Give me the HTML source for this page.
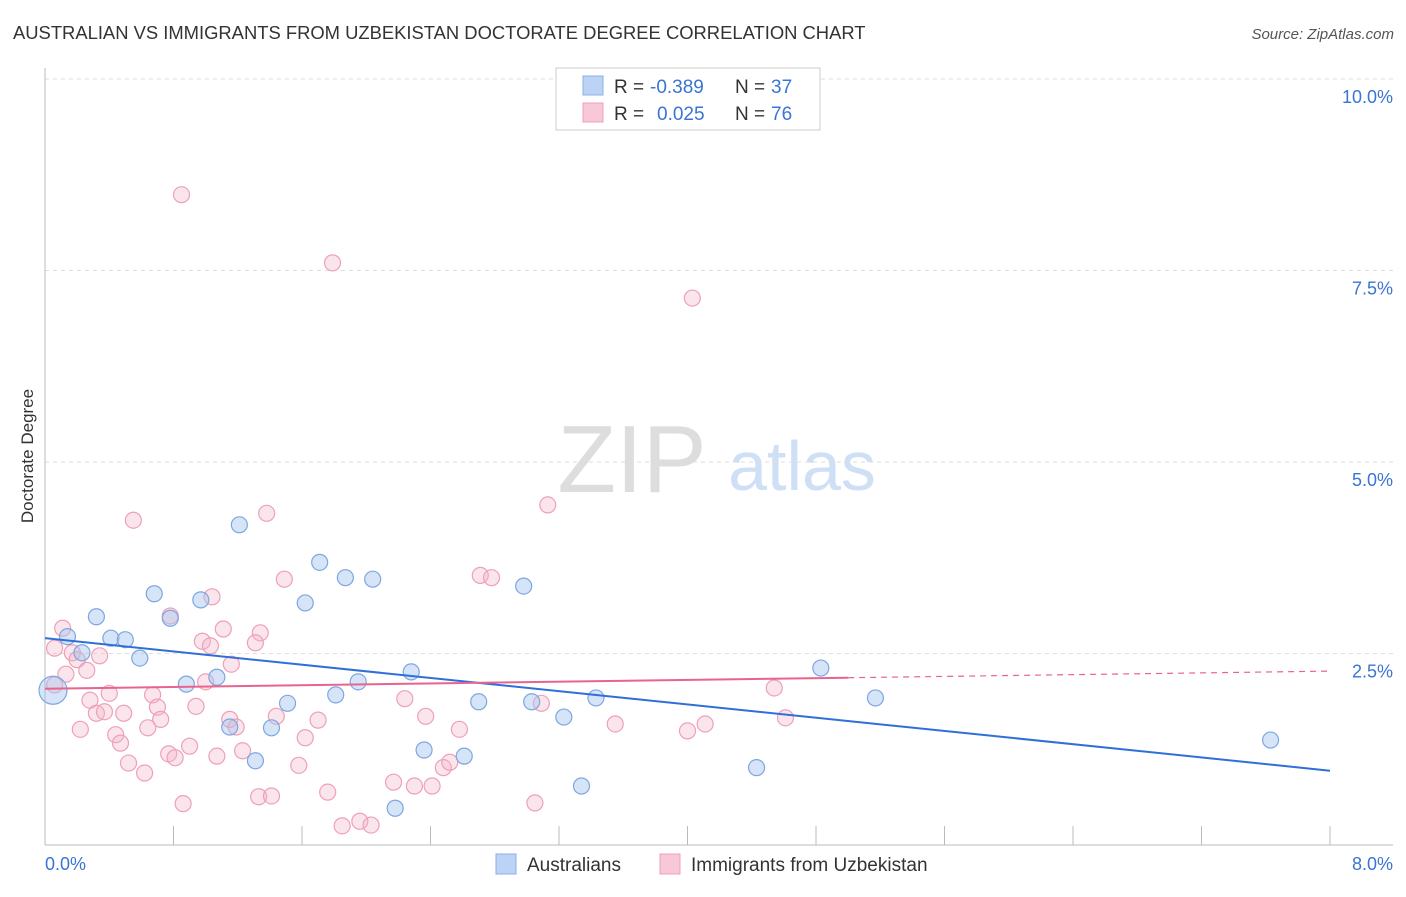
<!DOCTYPE html>
<html><head><meta charset="utf-8"><style>
body{margin:0;background:#fff;font-family:"Liberation Sans",sans-serif;}
svg text{font-family:"Liberation Sans",sans-serif;}
</style></head><body>
<svg id="chart" width="1406" height="892" viewBox="0 0 1406 892" xmlns="http://www.w3.org/2000/svg">
<text x="13" y="39" font-size="18.4" fill="#333">AUSTRALIAN VS IMMIGRANTS FROM UZBEKISTAN DOCTORATE DEGREE CORRELATION CHART</text>
<text x="1394" y="39" font-size="15" fill="#555" text-anchor="end" font-style="italic">Source: ZipAtlas.com</text>
<text transform="translate(33,456) rotate(-90)" font-size="17" fill="#333" text-anchor="middle">Doctorate Degree</text>
<g>
<text x="632" y="492" font-size="96" fill="#ddd" text-anchor="middle" font-family="Liberation Serif">ZIP</text>
<text x="802" y="490" font-size="70" fill="#cfdff5" text-anchor="middle">atlas</text>
</g>
<g id="grid"></g>
<g id="axes"></g>
<g id="marks"></g>
<g>
<rect x="556" y="68" width="264" height="62" fill="#fff" stroke="#ccc"/>
<rect x="583" y="76" width="20" height="19" fill="#bcd3f5" stroke="#8ab0e8"/>
<rect x="583" y="103" width="20" height="19" fill="#f8c8d6" stroke="#eea0b8"/>
<text x="614" y="93" font-size="19" fill="#333">R =</text>
<text x="650" y="93" font-size="19" fill="#3a74d4">-0.389</text>
<text x="735" y="93" font-size="19" fill="#333">N =</text>
<text x="771" y="93" font-size="19" fill="#3a74d4">37</text>
<text x="614" y="120" font-size="19" fill="#333">R =</text>
<text x="657" y="120" font-size="19" fill="#3a74d4">0.025</text>
<text x="735" y="120" font-size="19" fill="#333">N =</text>
<text x="771" y="120" font-size="19" fill="#3a74d4">76</text>
</g>
<g>
<rect x="496" y="854" width="20" height="20" fill="#bcd3f5" stroke="#8ab0e8"/>
<text x="527" y="871" font-size="19" fill="#333">Australians</text>
<rect x="660" y="854" width="20" height="20" fill="#f8c8d6" stroke="#eea0b8"/>
<text x="691" y="871" font-size="19" fill="#333">Immigrants from Uzbekistan</text>
</g>
</svg>
<script>
const blueX=[.05,.14,.32,.23,.41,.50,.59,.68,.78,.88,.97,1.07,1.15,1.21,1.31,1.41,1.51,1.62,1.71,1.81,1.87,1.95,2.04,2.18,2.28,2.36,2.61,2.70,2.98,3.03,3.23,3.34,3.43,4.43,4.83,5.17,7.63];
const blueY=[2.02,2.72,2.98,2.51,2.70,2.68,2.44,3.28,2.96,2.10,3.20,2.19,1.54,4.18,1.10,1.53,1.85,3.16,3.69,1.96,3.49,2.13,3.47,0.48,2.26,1.24,1.16,1.87,3.38,1.87,1.67,0.77,1.92,1.01,2.31,1.92,1.37];
const pinkX=[.85,1.79,4.03,3.13,.55,1.38,2.71,2.78,1.49,1.04,.78,.11,.06,.17,.20,.34,.26,.13,.40,.28,.32,.37,.49,.22,.44,.47,.67,.70,.72,.64,.94,1.00,.98,1.03,1.11,1.16,1.34,1.31,1.15,1.19,1.44,.90,.77,.81,.52,.62,1.07,1.23,1.62,1.70,1.58,1.76,2.24,2.37,2.58,3.09,3.55,4.00,4.11,4.54,4.61,.86,1.33,1.41,1.85,1.96,2.03,2.17,2.30,2.41,2.48,2.52,3.05,.06];
const pinkY=[8.49,7.60,7.14,4.44,4.24,4.33,3.52,3.49,3.47,3.24,2.99,2.83,2.57,2.51,2.42,2.47,2.28,2.23,1.98,1.89,1.72,1.74,1.72,1.51,1.44,1.33,1.96,1.80,1.64,1.53,1.81,2.13,2.66,2.60,2.82,2.36,2.77,2.64,1.64,1.54,1.68,1.29,1.19,1.14,1.07,0.94,1.16,1.23,1.40,1.63,1.04,0.69,1.91,1.68,1.51,1.85,1.58,1.49,1.58,2.05,1.66,0.54,0.63,0.64,0.25,0.31,0.26,0.82,0.77,0.77,1.01,1.08,0.55,2.09];
const blueTrend=[2.70,0.97];
const pinkTrend=[2.04,2.27];
const pinkSolidEnd=5.0;
const yTicks=[2.5,5.0,7.5,10.0];
const yTickLabels=["2.5%","5.0%","7.5%","10.0%"];
const xTicks=[0,0.8,1.6,2.4,3.2,4.0,4.8,5.6,6.4,7.2,8.0];

const NS="http://www.w3.org/2000/svg";
const X=v=>45+v/8*1285;
const Y=v=>845-v*76.6;
function mk(tag,attrs,parent){const e=document.createElementNS(NS,tag);for(const k in attrs)e.setAttribute(k,attrs[k]);parent.appendChild(e);return e;}
const grid=document.getElementById('grid'),axes=document.getElementById('axes'),marks=document.getElementById('marks');
yTicks.forEach((t,i)=>{
  const l=mk('line',{x1:45,x2:1393,y1:Y(t),y2:Y(t),stroke:'#ddd','stroke-dasharray':'4,4'},grid);
  
  
  const tx=mk('text',{x:1393,y:Y(t)+24,'font-size':18,fill:'#3a74d4','text-anchor':'end'},axes);
  tx.textContent=yTickLabels[i];
  
  
});
const la=mk('line',{x1:45,x2:45,y1:68,y2:845,stroke:'#bbb'},axes);


const ba=mk('line',{x1:45,x2:1393,y1:845,y2:845,stroke:'#bbb'},axes);


xTicks.forEach(t=>{
  const l=mk('line',{x1:X(t),x2:X(t),y1:826,y2:845,stroke:'#bbb'},axes);
  
  
});
const x0=mk('text',{x:45,y:870,'font-size':18,fill:'#3a74d4'},axes);x0.textContent="0.0%";


const x8=mk('text',{x:1393,y:870,'font-size':18,fill:'#3a74d4','text-anchor':'end'},axes);x8.textContent="8.0%";



pinkX.forEach((v,i)=>{
  const c=mk('circle',{cx:X(v),cy:Y(pinkY[i]),r:8,fill:'rgba(244,180,200,0.35)',stroke:'#eea0b8','stroke-width':1.2},marks);
  
  
});
blueX.forEach((v,i)=>{
  const c=mk('circle',{cx:X(v),cy:Y(blueY[i]),r:i===0?14:8,fill:'rgba(164,196,240,0.45)',stroke:'#7fa6e0','stroke-width':1.2},marks);
  
  
});
const bt=mk('line',{x1:X(0),y1:Y(blueTrend[0]),x2:X(8),y2:Y(blueTrend[1]),stroke:'#2f6fd8','stroke-width':2},marks);


const py=x=>pinkTrend[0]+(pinkTrend[1]-pinkTrend[0])*x/8;
const pt=mk('line',{x1:X(0),y1:Y(py(0)),x2:X(pinkSolidEnd),y2:Y(py(pinkSolidEnd)),stroke:'#e8648e','stroke-width':2},marks);


const pd=mk('line',{x1:X(pinkSolidEnd),y1:Y(py(pinkSolidEnd)),x2:X(8),y2:Y(py(8)),stroke:'#e8648e','stroke-width':1.2,'stroke-dasharray':'6,5'},marks);


</script>
</body></html>
